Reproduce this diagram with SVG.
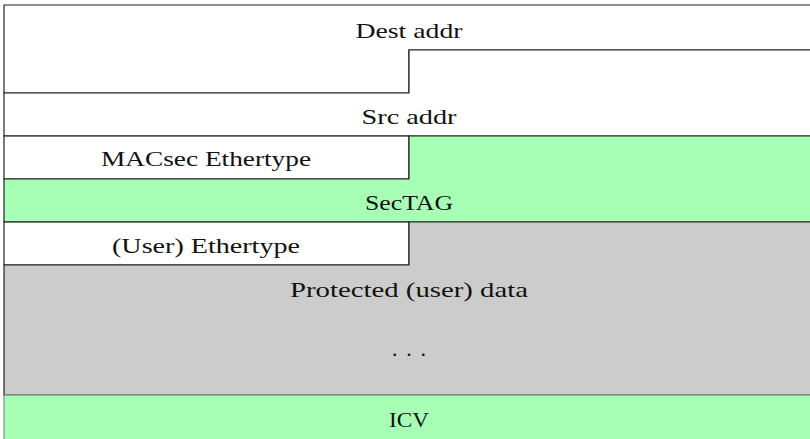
<svg xmlns="http://www.w3.org/2000/svg" width="810" height="439" viewBox="0 0 810 439">
<style>
.f{stroke:#222;stroke-width:1.2;stroke-linejoin:miter}
.w{fill:#ffffff}
.g{fill:#a6ffb4}
.p{fill:#cccccc}
text{font-family:"Liberation Serif","DejaVu Serif",serif;font-size:22px;fill:#111;text-anchor:middle}
</style>
<rect width="810" height="439" fill="#ffffff"/>
<g id="dest">
<polygon class="f w" points="4,5 816,5 816,50 409,50 409,93 4,93"/>
<text x="409" y="38" textLength="107" lengthAdjust="spacingAndGlyphs">Dest addr</text>
</g>
<g id="src">
<polygon class="f w" points="409,50 816,50 816,136 4,136 4,93 409,93"/>
<text x="409" y="124" textLength="95" lengthAdjust="spacingAndGlyphs">Src addr</text>
</g>
<g id="macsec">
<rect class="f w" x="4" y="136" width="405" height="43"/>
<text x="206" y="166" textLength="210" lengthAdjust="spacingAndGlyphs">MACsec Ethertype</text>
</g>
<g id="sectag">
<polygon class="f g" points="409,136 816,136 816,222 4,222 4,179 409,179"/>
<text x="409" y="210" textLength="88" lengthAdjust="spacingAndGlyphs">SecTAG</text>
</g>
<g id="userether">
<rect class="f w" x="4" y="222" width="405" height="43"/>
<text x="206" y="253" textLength="188" lengthAdjust="spacingAndGlyphs">(User) Ethertype</text>
</g>
<g id="data">
<polygon class="f p" points="409,222 816,222 816,395 4,395 4,265 409,265"/>
<text x="409" y="297" textLength="238" lengthAdjust="spacingAndGlyphs">Protected (user) data</text>
<text x="409" y="356" textLength="34" lengthAdjust="spacing">. . .</text>
</g>
<g id="icv">
<rect class="f g" x="4" y="395" width="812" height="50" style="stroke:#888"/>
<text x="409" y="427" textLength="40" lengthAdjust="spacingAndGlyphs">ICV</text>
</g>
<g id="connectors"/>
</svg>
